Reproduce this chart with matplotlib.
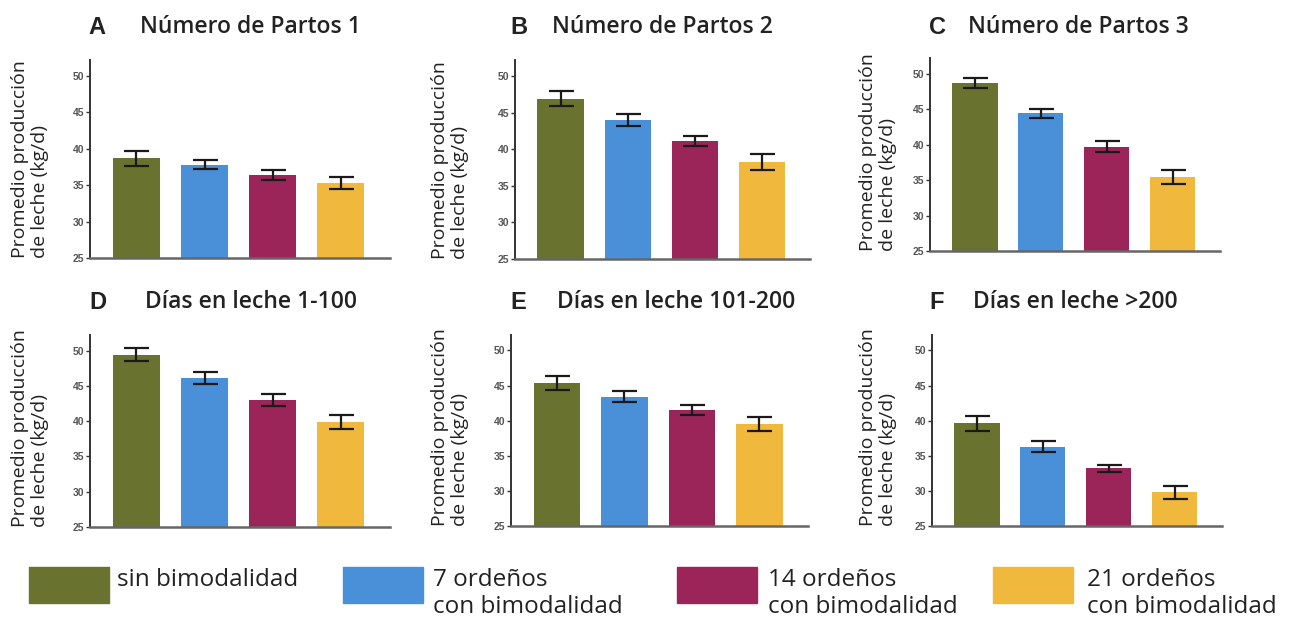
import numpy as np
import matplotlib
matplotlib.use("Agg")
from matplotlib import pyplot as plt
from matplotlib.patches import Rectangle

# datos (kg/d)
grupos = ["sin bimodalidad", "7 ordeños\ncon bimodalidad",
          "14 ordeños\ncon bimodalidad", "21 ordeños\ncon bimodalidad"]
colores = ["#6a7230", "#4a90d8", "#9b2558", "#f0b83c"]

letras = ["A", "B", "C", "D", "E", "F"]
titulos = ["Número de Partos 1", "Número de Partos 2", "Número de Partos 3",
           "Días en leche 1-100", "Días en leche 101-200", "Días en leche >200"]

partos1 = [38.7, 37.8, 36.4, 35.3]
partos2 = [46.9, 44.0, 41.1, 38.3]
partos3 = [48.7, 44.4, 39.7, 35.4]
del_1_100 = [49.4, 46.1, 43.0, 39.9]
del_101_200 = [45.4, 43.4, 41.5, 39.5]
del_200 = [39.6, 36.3, 33.2, 29.8]

err1 = [1.0, 0.6, 0.7, 0.8]
err2 = [1.0, 0.8, 0.7, 1.1]
err3 = [0.7, 0.6, 0.8, 1.0]
err4 = [0.9, 0.8, 0.9, 1.0]
err5 = [1.0, 0.8, 0.7, 1.0]
err6 = [1.0, 0.8, 0.5, 0.9]

medias = [partos1, partos2, partos3, del_1_100, del_101_200, del_200]
errores = [err1, err2, err3, err4, err5, err6]
yticks = [25, 30, 35, 40, 45, 50]

W, H = 1291, 618
fig = plt.figure(figsize=(W / 100, H / 100), dpi=100)

# cajas de ejes en pixeles: izquierda, abajo, derecha, arriba
cajas = [(90, 258, 390, 60), (515, 259, 810, 60), (930, 251, 1220, 58),
         (90, 527, 390, 335), (511, 526, 808, 335), (932, 526, 1222, 335)]
# posicion de letra, titulo y etiqueta y
letra_x = [97, 519, 937, 98, 518, 937]
titulo_x = [140, 552, 968, 145, 557, 973]
ylab_x = [30, 450, 878, 30, 450, 878]

x = np.arange(4)
for i in range(6):
    l, b, r, t = cajas[i]
    ax = fig.add_axes([l / W, 1 - b / H, (r - l) / W, (b - t) / H])
    ax.bar(x, medias[i], width=0.69, color=colores, zorder=2)
    ax.errorbar(x, medias[i], yerr=errores[i], fmt="none", ecolor="#1a1a1a",
                elinewidth=1.6, capsize=9, capthick=1.6, zorder=3)
    ax.set_ylim(25, 52.2)
    ax.set_xlim(-0.68, 3.72)
    ax.set_yticks(yticks)
    ax.set_yticklabels([str(v) for v in yticks], fontsize=7.5, fontweight="bold",
                       color="#555555", family="Liberation Sans")
    ax.set_xticks([])
    for s in ["top", "right"]:
        ax.spines[s].set_visible(False)
    ax.spines["left"].set_color("#333333")
    ax.spines["left"].set_linewidth(1.4)
    ax.spines["bottom"].set_color("#666666")
    ax.spines["bottom"].set_linewidth(1.8)
    ax.tick_params(axis="y", length=3, width=1, color="#333333", pad=1)

    ytxt = 27 if i < 3 else 302
    fig.text(letra_x[i] / W, 1 - ytxt / H, letras[i], ha="center", va="center",
             fontsize=17, fontweight="bold", family="Liberation Sans", color="#222222")
    fig.text(titulo_x[i] / W, 1 - ytxt / H, titulos[i], ha="left", va="center",
             fontsize=16.5, fontweight="semibold", family="Open Sans", color="#222222")
    fig.text(ylab_x[i] / W, 1 - b / H, "Promedio producción\nde leche (kg/d)",
             rotation=90, ha="center", va="bottom", multialignment="left",
             fontsize=14, family="Open Sans", color="#222222", linespacing=1.2)

# leyenda
ley_x = [29, 343, 677, 993]
txt_x = [117, 433, 768, 1087]
for i in range(4):
    fig.add_artist(Rectangle((ley_x[i] / W, 1 - 603 / H), 80 / W, 36 / H,
                             transform=fig.transFigure, color=colores[i]))
    fig.text(txt_x[i] / W, 1 - 568 / H, grupos[i], ha="left", va="top",
             fontsize=17.5, family="Open Sans", color="#222222", linespacing=1.15)

fig.savefig("out.png", dpi=100, facecolor="white")
